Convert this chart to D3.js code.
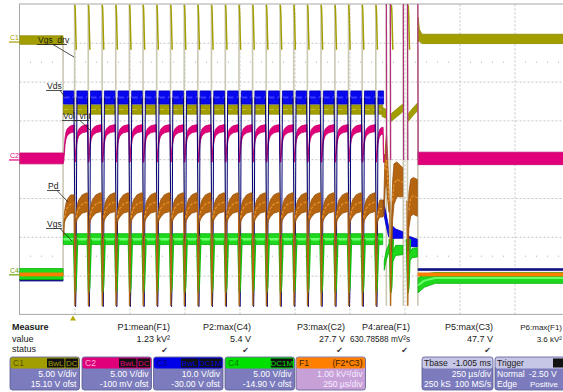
<!DOCTYPE html>
<html>
<head>
<meta charset="utf-8">
<script src="https://cdn.jsdelivr.net/npm/d3@7"></script>
<style>
  body { margin: 0; background: #fff; }
  svg { display: block; font-family: "Liberation Sans", Arial, sans-serif; }
</style>
</head>
<body>
<svg id="chart" width="563" height="392"></svg>
<script>
// ---------- time base (µs), 250 µs/div ----------
const timeDomain = [-250, 2250];
const xGrid = [0, 250, 500, 750, 1000, 1250, 1500, 1750, 2000];
const burstStart = -52;
const switchTimes = [1, 63, 126, 188, 250, 312, 374, 437, 499, 561, 623, 686,
  748, 810, 872, 935, 997, 1059, 1121, 1184, 1246, 1308, 1370];
const burstOff = 1405;
const tailEdges = [1418, 1436, 1495, 1514, 1561];
const burstEnd = 1562;

// ---------- vertical settings ----------
const voltsPerDiv = [5, 5, 10, 5, 1];          // C1 C2 C3 C4 F1
const offsets = [15.10, -0.100, -30.00, -14.90, -2.97];

// ---------- levels (channel units) ----------
const c1Idle = [-0.3, 0.8], c1Off = [-9.3, -8.1];
const c2Idle = [-0.5, 0.9], c2After = [-0.6, 1.0];
const c3Idle = [-1.4, -0.9], c3On = [44.2, 47.6], c3After = [1.3, 1.8];
const c4Idle = [-0.6, 0.8], c4On = [3.9, 5.3];
const f1Idle = [-0.04, 0.04];

// recovery after each switching edge (dt in µs)
const c2Dt = [3, 5, 9, 13, 18, 25, 35, 48, 58];
const c2Rise = [0.2, 0.9, 2.4, 3.1, 3.5, 3.75, 3.95, 4.05, 4.1];
const f1Dt = [3, 6, 12, 18, 34, 52, 58];
const f1Low = [1.0, 1.33, 1.42, 1.48, 1.58, 1.61, 1.62];
const f1High = [1.3, 1.58, 1.8, 1.92, 2.05, 2.1, 2.1];

// shapes around each switching edge
const c1SpikeDt = [0, 1.5, 3, 5, 7];
const c1Spike = [4.8, 4.5, 3.5, 1.0, -1.0];
const c3DipDt = [-4, 4, 6, 10];
const c3Dip = [45.9, -8, -3, 45.9];
const c4DipDt = [-4, -1, 2, 5, 8, 12];
const c4Dip = [4.6, 1.0, -2.2, -1.4, 1.0, 4.6];
const f1DipDt = [-3, 1, 3, 6];
const f1Dip = [1.9, -0.8, 0.0, 1.0];

// tail of the burst: [t, low, high]
const c1Tail = [
  [[1398, -9.6, -8.4], [1416, -9.8, -8.7]],
  [[1441, -10.2, -9.2], [1466, -9.6, -8.6], [1492, -9.0, -8.0]],
  [[1518, -10.2, -9.2], [1538, -9.5, -8.5], [1558, -8.9, -7.9]]
];
const c1After = [[1562, 0, 3.2], [1568, 0.1, 1.6], [1580, -0.2, 1.0], [2250, -0.2, 1.0]];
const c3Tail = [
  [[1404, 16.5, 19.5], [1416, 13, 16], [1428, 10, 12.5]],
  [[1445, 9.5, 12.8], [1460, 9.6, 12.0], [1492, 9.6, 11.3]],
  [[1518, 7.5, 10.2], [1558, 7.4, 9.4]]
];
const c4Tail = [
  [[1408, 0.6, 1.8], [1418, 2.0, 3.2], [1430, 3.0, 4.0]],
  [[1444, 1.6, 2.8], [1460, 2.5, 3.8], [1492, 2.6, 3.8]],
  [[1518, 1.6, 2.6], [1535, 2.2, 3.4], [1558, 2.3, 3.5]]
];
const c4After = [[1562, -2.3, -0.4], [1590, -1.6, 0.1], [1640, -1.1, 0.3], [2250, -1.1, 0.3]];
const f1Tail = [
  [[1406, 1.5, 1.9], [1412, 2.2, 3.2], [1418, 2.4, 3.62], [1424, 1.9, 3.0], [1430, 1.6, 2.0]],
  [[1441, 0.6, 1.4], [1446, 1.4, 2.4], [1452, 1.8, 2.85], [1465, 2.0, 2.9], [1492, 2.0, 2.75]],
  [[1516, 0.6, 1.4], [1520, 1.2, 2.1], [1528, 1.5, 2.45], [1540, 1.55, 2.5], [1558, 1.5, 2.45]]
];
const tailSpikes = [1440, 1516];
const tailDips = [1436, 1514];

// ---------- measurement panel ----------
const measNames = ["P1:mean(F1)", "P2:max(C4)", "P3:max(C2)", "P4:area(F1)", "P5:max(C3)", "P6:max(F1)"];
const measValues = ["1.23 kV²", "5.4 V", "27.7 V", "630.78588 mV²s", "47.7 V", "3.6 kV²"];
const measOk = [true, true, true, true, true, false];
const chNames = ["C1", "C2", "C3", "C4"];
const chCoupling = [["BwL", "DC"], ["BwL", "DC"], ["BwL", "DC1M"], ["DC1M"]];
const chVdivText = ["5.00 V/div", "5.00 V/div", "10.0 V/div", "5.00 V/div"];
const chOfstText = ["15.10 V ofst", "-100 mV ofst", "-30.00 V ofst", "-14.90 V ofst"];

// ---------- layout ----------
const L = 19.5, T = 4, R = 569.5, B = 314.4;
const olive = "#a39e00", magenta = "#e0007a", blue = "#0808ee", green = "#1ed81e",
      brown = "#b5640f", orange = "#ff8000", paleEdge = "#cbc8b4";

const svg = d3.select("#chart");
const x = d3.scaleLinear().domain(timeDomain).range([L, R]);
const yDiv = d3.scaleLinear().domain([-4, 4]).range([B, T]);
const yCh = voltsPerDiv.map((vd, i) =>
  d3.scaleLinear().domain([-4 * vd - offsets[i], 4 * vd - offsets[i]]).range([B, T]));
const [y1, y2, y3, y4, yF] = yCh;

svg.append("defs").append("clipPath").attr("id", "plotClip")
  .append("rect").attr("x", L).attr("y", T).attr("width", R - L).attr("height", B - T);

// grid
const grid = svg.append("g");
grid.append("g").attr("transform", `translate(0,${B})`)
  .call(d3.axisTop(x).tickValues(xGrid).tickSize(B - T).tickFormat(""))
  .call(g => g.select(".domain").remove());
grid.append("g").attr("transform", `translate(${L},0)`)
  .call(d3.axisRight(yDiv).tickValues([-3, -2, -1, 0, 1, 2, 3]).tickSize(R - L).tickFormat(""))
  .call(g => g.select(".domain").remove());
grid.selectAll(".tick line").attr("stroke", "#c4c4c4").attr("stroke-dasharray", "2,2");
const dotT = d3.range(timeDomain[0] + 50, timeDomain[1], 50).filter(t => (t % 250) !== 0);
[2.5, -2.5].forEach(dv => {
  grid.selectAll(null).data(dotT).join("rect")
    .attr("x", d => x(d) - 0.5).attr("y", yDiv(dv) - 0.5).attr("width", 1).attr("height", 1)
    .attr("fill", "#b0b0b0");
});
grid.append("rect").attr("x", L).attr("y", T).attr("width", R - L).attr("height", B - T)
  .attr("fill", "none").attr("stroke", "#a8a8a8").attr("stroke-width", 1);

const plotG = svg.append("g").attr("clip-path", "url(#plotClip)");
const area = sc => d3.area().x(d => x(d[0])).y0(d => sc(d[1])).y1(d => sc(d[2]));
const lineGen = sc => d3.line().x(d => x(d[0])).y(d => sc(d[1]));
function band(g, pts, sc, fill, stroke) {
  g.append("path").datum(pts).attr("d", area(sc))
    .attr("fill", fill).attr("stroke", stroke || fill).attr("stroke-width", 0.8);
}
function trace(g, pts, sc, color, w, dash) {
  g.append("path").datum(pts).attr("d", lineGen(sc))
    .attr("fill", "none").attr("stroke", color).attr("stroke-width", w || 1)
    .attr("stroke-linejoin", "round").attr("stroke-dasharray", dash || null);
}
const shape = (t, dts, vals) => dts.map((dt, i) => [t + dt, vals[i]]);
const flat = (a, b, lv) => [[a, lv[0], lv[1]], [b, lv[0], lv[1]]];
const mid = pts => pts.map(d => [d[0], (d[1] + d[2]) / 2]);

const starts = [burstStart].concat(switchTimes);
const ends = switchTimes.concat([burstOff]);

// fast edges (pale)
const edges = plotG.append("g");
switchTimes.concat(tailEdges).forEach(t =>
  trace(edges, [[t - 0.5, 6], [t - 0.5, -34]], y1, paleEdge, 1.6));
trace(edges, [[burstStart, 0.6], [burstStart, -30]], y1, paleEdge, 1.6);

// C1
const g1 = plotG.append("g");
band(g1, flat(timeDomain[0], burstStart, c1Idle), y1, olive, "#8f8a00");
starts.forEach((s, i) => {
  const pts = flat(s + (i === 0 ? 2 : 12), ends[i] - 4, c1Off);
  band(g1, pts, y1, olive, "#8f8a00");
  trace(g1, mid(pts), y1, "#c2bc2a", 1, "5,3");
});
c1Tail.forEach(seg => band(g1, seg, y1, olive, "#8f8a00"));
band(g1, c1After, y1, olive, "#8f8a00");
switchTimes.concat(tailSpikes).forEach(t => trace(g1, shape(t, c1SpikeDt, c1Spike), y1, olive, 1.5));

// C2
const g2 = plotG.append("g");
const c2Pts = flat(timeDomain[0], burstStart, c2Idle);
starts.forEach((s, i) => {
  const e = ends[i];
  c2Dt.forEach((dt, j) => {
    if (s + dt < e - 3) c2Pts.push([s + dt, c2Rise[j] - 0.45, c2Rise[j] + 0.45]);
  });
  const last = c2Pts[c2Pts.length - 1];
  c2Pts.push([e - 2, last[1], last[2]]);
  c2Pts.push([e - 0.5, -0.3, 0.7]);
});
c2Pts.push([burstOff + 5, -0.3, 0.7]);
band(g2, c2Pts, y2, magenta, "#c8006c");
band(g2, flat(burstEnd, timeDomain[1], c2After), y2, magenta, "#c8006c");

// C3
const g3 = plotG.append("g");
band(g3, flat(timeDomain[0], burstStart, c3Idle), y3, "#101080", "#202090");
starts.forEach((s, i) => {
  const pts = flat(s + (i === 0 ? 2 : 10), i === starts.length - 1 ? ends[i] : ends[i] - 4, c3On);
  band(g3, pts, y3, blue, "#0000b8");
  trace(g3, mid(pts), y3, "#3a3aff", 2, "6,3");
});
switchTimes.forEach(t => trace(g3, shape(t, c3DipDt, c3Dip), y3, "#00007a", 1));
c3Tail.forEach(seg => band(g3, seg, y3, blue, "#0000b8"));
band(g3, flat(burstEnd, timeDomain[1], c3After), y3, "#101080", "#202090");

// C4
const g4 = plotG.append("g");
band(g4, flat(timeDomain[0], burstStart, c4Idle), y4, green, "#00b000");
starts.forEach((s, i) => {
  const pts = flat(s + (i === 0 ? 2 : 10), ends[i] - 4, c4On);
  band(g4, pts, y4, green, "#00b000");
  trace(g4, mid(pts), y4, "#6cff6c", 2.5);
});
switchTimes.concat(tailDips).forEach(t => trace(g4, shape(t, c4DipDt, c4Dip), y4, "#10c010", 2));
c4Tail.forEach(seg => band(g4, seg, y4, green, "#00b000"));
band(g4, c4After, y4, green, "#00b000");
trace(g4, mid(c4After), y4, "#6cff6c", 2);

// F1
const gF = plotG.append("g");
band(gF, flat(timeDomain[0], burstStart, f1Idle), yF, orange, "#f07800");
starts.forEach((s, i) => {
  const e = ends[i];
  const pts = [];
  f1Dt.forEach((dt, j) => { if (s + dt < e - 3) pts.push([s + dt, f1Low[j], f1High[j]]); });
  const last = pts[pts.length - 1];
  pts.push([e - 3, last[1], last[2]]);
  band(gF, pts, yF, brown, "#9a520a");
  trace(gF, mid(pts).slice(1), yF, "#e8922c", 1.2, "3,1.5");
});
switchTimes.concat(tailDips).forEach(t => {
  trace(gF, shape(t, f1DipDt, f1Dip), yF, brown, 1.2);
  trace(gF, [[t, 0], [t + 4, 0]], yF, orange, 1.5);
});
f1Tail.forEach(seg => {
  band(gF, seg, yF, brown, "#9a520a");
  trace(gF, mid(seg).slice(1), yF, "#e8922c", 1.2, "3,1.5");
});
band(gF, flat(burstEnd, timeDomain[1], f1Idle), yF, orange, "#f07800");

// C2 excursions at the end of the burst (off screen top)
tailEdges.forEach(t => trace(plotG, [[t - 1, 30], [t + 1, 0]], y2, "#b0307a", 1.2));

// ---------- annotations ----------
const ann = svg.append("g").attr("font-size", 8.5).attr("fill", "#1a1a1a");
const notes = [
  {txt: "Vgs_drv", tx: 38, ty: 43, u: [37, 67], lead: [53, 74, 57]},
  {txt: "Vds", tx: 47, ty: 89, u: [46, 62], lead: [60, 65, 97]},
  {txt: "Vol_vnt", tx: 63, ty: 119, u: [62, 89], lead: [80, 90, 130]},
  {txt: "Pd", tx: 48, ty: 189, u: [47, 60], lead: [57, 68, 202]},
  {txt: "Vgs", tx: 47, ty: 227, u: [46, 62], lead: [60, 72, 241]}
];
notes.forEach(n => {
  ann.append("text").attr("x", n.tx).attr("y", n.ty).text(n.txt);
  ann.append("line").attr("x1", n.u[0]).attr("x2", n.u[1]).attr("y1", n.ty + 1.5).attr("y2", n.ty + 1.5)
    .attr("stroke", "#222").attr("stroke-width", 0.8);
  ann.append("line").attr("x1", n.lead[0]).attr("y1", n.ty + 1.5).attr("x2", n.lead[1]).attr("y2", n.lead[2])
    .attr("stroke", "#222").attr("stroke-width", 0.8);
});

// channel ground markers
const markers = [["C1", y1(0), olive], ["C2", y2(0), magenta], ["C4", y4(0), "#6aa000"]];
markers.forEach(m => {
  svg.append("text").attr("x", 10).attr("y", m[1] - 2).attr("font-size", 7).attr("fill", m[2]).text(m[0]);
  svg.append("line").attr("x1", 9).attr("x2", L).attr("y1", m[1]).attr("y2", m[1])
    .attr("stroke", m[2]).attr("stroke-width", 1.2);
});
// trigger marker
svg.append("path").attr("d", d3.line()([[x(0) - 1.5, 315.5], [x(0) - 4.5, 320.5], [x(0) + 1.5, 320.5]]) + "Z")
  .attr("fill", "#b4ac00");

// ---------- measure table ----------
const meas = svg.append("g").attr("font-size", 9).attr("fill", "#1a1a1a");
const measColRight = [170, 251, 345, 410, 493, 562];
meas.append("text").attr("x", 12).attr("y", 330).attr("font-weight", "bold").text("Measure");
meas.append("text").attr("x", 12).attr("y", 341.5).text("value");
meas.append("text").attr("x", 12).attr("y", 351.5).text("status");
measNames.forEach((n, i) => {
  const last = i === measNames.length - 1;
  meas.append("text").attr("x", measColRight[i]).attr("y", 330).attr("text-anchor", "end")
    .attr("font-size", last ? 8 : null).text(n);
  const v = meas.append("text").attr("x", measColRight[i]).attr("y", 341.5).attr("text-anchor", "end")
    .attr("font-size", last ? 8 : null).text(measValues[i]);
  if (measValues[i].length > 10) v.attr("textLength", 60).attr("lengthAdjust", "spacingAndGlyphs");
  if (measOk[i]) meas.append("text").attr("x", measColRight[i] - 2).attr("y", 352.5)
    .attr("text-anchor", "end").attr("font-family", "DejaVu Sans").attr("font-size", 8).attr("fill", "#333").text("✔");
});

// ---------- channel boxes ----------
const boxX = [10, 82, 153.5, 225, 296];
const boxW = 69.5, boxTop = 357, headH = 11, boxH = 33;
const boxColors = [olive, magenta, "#0000e8", "#00e000", orange];
const bodyPurple = "#7b7bbd";
const boxes = svg.append("g").attr("font-size", 8.6);
function boxFrame(bx, w, headFill, bodyFill) {
  const g = boxes.append("g");
  g.append("rect").attr("x", bx).attr("y", boxTop).attr("width", w).attr("height", boxH)
    .attr("rx", 2.5).attr("fill", bodyFill).attr("stroke", "#5a5a90").attr("stroke-width", 0.8);
  g.append("rect").attr("x", bx + 0.5).attr("y", boxTop + 0.5).attr("width", w - 1).attr("height", headH)
    .attr("rx", 2).attr("fill", headFill);
  return g;
}
chNames.forEach((c, i) => {
  const bx = boxX[i], g = boxFrame(bx, boxW, boxColors[i], bodyPurple);
  g.append("text").attr("x", bx + 3).attr("y", boxTop + 9).attr("fill", i === 1 ? "#ffb0d8" : "rgba(0,0,0,0.5)").text(c);
  let rx = bx + boxW - 1.5;
  chCoupling[i].slice().reverse().forEach(b => {
    const bw = b.length * 4.8 + 3;
    rx -= bw;
    g.append("rect").attr("x", rx).attr("y", boxTop + 1.5).attr("width", bw).attr("height", headH - 2).attr("fill", "#111");
    g.append("text").attr("x", rx + bw / 2).attr("y", boxTop + 9).attr("text-anchor", "middle")
      .attr("font-size", 8).attr("fill", boxColors[i]).text(b);
    rx -= 1;
  });
  g.append("text").attr("x", bx + boxW - 3).attr("y", boxTop + 20).attr("text-anchor", "end").attr("fill", "#fff").text(chVdivText[i]);
  g.append("text").attr("x", bx + boxW - 3).attr("y", boxTop + 30).attr("text-anchor", "end").attr("fill", "#fff").text(chOfstText[i]);
});
{
  const bx = boxX[4], g = boxFrame(bx, boxW, orange, "#c8a0d8");
  g.append("text").attr("x", bx + 3).attr("y", boxTop + 9).attr("fill", "#3a2000").text("F1");
  g.append("text").attr("x", bx + boxW - 3).attr("y", boxTop + 9).attr("text-anchor", "end").attr("fill", "#3a2000").text("(F2*C3)");
  g.append("text").attr("x", bx + boxW - 3).attr("y", boxTop + 20).attr("text-anchor", "end").attr("fill", "#f6ecff").text("1.00 kV²/div");
  g.append("text").attr("x", bx + boxW - 3).attr("y", boxTop + 30).attr("text-anchor", "end").attr("fill", "#f6ecff").text("250 µs/div");
}
{
  const bx = 422, w = 71, g = boxFrame(bx, w, "#c6c6e6", bodyPurple);
  g.append("text").attr("x", bx + 2).attr("y", boxTop + 9).attr("fill", "#1a1a1a").text("Tbase");
  g.append("text").attr("x", bx + w - 2).attr("y", boxTop + 9).attr("text-anchor", "end").attr("fill", "#1a1a1a").text("-1.005 ms");
  g.append("text").attr("x", bx + w - 2).attr("y", boxTop + 20).attr("text-anchor", "end").attr("fill", "#fff").text("250 µs/div");
  g.append("text").attr("x", bx + 2).attr("y", boxTop + 30).attr("fill", "#fff").text("250 kS");
  g.append("text").attr("x", bx + w - 2).attr("y", boxTop + 30).attr("text-anchor", "end").attr("fill", "#fff").text("100 MS/s");
}
{
  const bx = 495, w = 74, g = boxFrame(bx, w, "#c6c6e6", bodyPurple);
  g.append("text").attr("x", bx + 2).attr("y", boxTop + 9).attr("fill", "#1a1a1a").text("Trigger");
  g.append("rect").attr("x", 553).attr("y", boxTop + 1.5).attr("width", 14).attr("height", headH - 2).attr("fill", "#111");
  g.append("text").attr("x", bx + 2).attr("y", boxTop + 20).attr("fill", "#fff").text("Normal");
  g.append("text").attr("x", 529).attr("y", boxTop + 20).attr("fill", "#fff").text("-2.50 V");
  g.append("text").attr("x", bx + 2).attr("y", boxTop + 30).attr("fill", "#fff").text("Edge");
  g.append("text").attr("x", 530).attr("y", boxTop + 30).attr("fill", "#fff").attr("font-size", 8).text("Positive");
}
</script>
</body>
</html>
